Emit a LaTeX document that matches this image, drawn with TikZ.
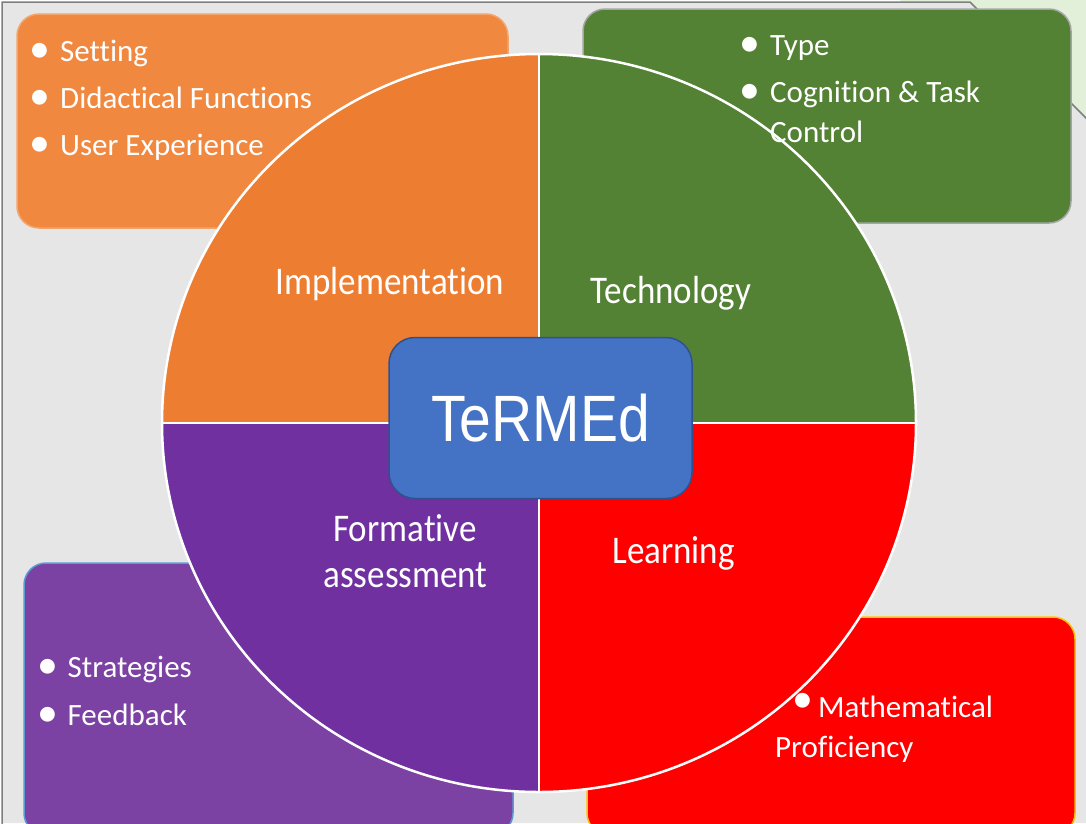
\documentclass[tikz,border=0pt]{standalone}
\usepackage{fontspec}
\setmainfont{Carlito}[Ligatures=NoCommon]
\newfontfamily\arialfont{Liberation Sans}
\usepackage{tikz}
\usetikzlibrary{calc}

\definecolor{bggray}{HTML}{E6E6E6}
\definecolor{bggreen}{HTML}{E2F0D9}
\definecolor{framegray}{HTML}{7F7F7F}
\definecolor{implorange}{HTML}{ED7D31}
\definecolor{implbox}{HTML}{F0893F}
\definecolor{impledge}{HTML}{F4A56C}
\definecolor{techgreen}{HTML}{548235}
\definecolor{techedge}{HTML}{A5A5A5}
\definecolor{learnred}{HTML}{FF0000}
\definecolor{learnedge}{HTML}{FFC000}
\definecolor{formpurple}{HTML}{7030A0}
\definecolor{formbox}{HTML}{7B41A3}
\definecolor{formedge}{HTML}{5B9BD5}
\definecolor{termblue}{HTML}{4472C4}
\definecolor{termedge}{HTML}{2F528F}

\newcommand{\bigdot}{\raisebox{-1.5pt}{\scalebox{1.35}{\textbullet}}}
\newcommand{\bul}{\makebox[29.5pt][l]{\hspace{-1pt}\bigdot}}

\tikzset{
  infobox/.style={rounded corners=22pt, line width=1.5pt},
  quadlabel/.style={text=white, font=\fontsize{35}{42}\selectfont, anchor=base, inner sep=0pt, yscale=1.12},
  listitem/.style={text=white, font=\fontsize{31}{40}\selectfont, anchor=base west, inner sep=0pt},
  rim/.style={white, line width=2.5pt}
}

\begin{document}
\begin{tikzpicture}[x=1pt, y=-1pt]
	\useasboundingbox (0,0) rectangle (1086,823);
	\clip (0,0) rectangle (1086,823);
	\fill[white] (0,0) rectangle (1086,823);
	\fill[bggreen] (900,0) -- (1086,0) -- (1086,200) -- cycle;
	\fill[bggray] (2,2) -- (970,2) -- (1086,118) -- (1086,823) -- (2,823) -- cycle;
	\draw[framegray, line width=1.5pt] (2,830) -- (2,2) -- (970,2) -- (1090,122);
	% outer boxes
	\draw[infobox, fill=implbox, draw=impledge] (17,14) rectangle (508,228);
	\draw[infobox, fill=techgreen, draw=techedge] (583,9) rectangle (1071,223);
	\draw[infobox, fill=formbox, draw=formedge] (24,563) rectangle (513,835);
	\draw[infobox, fill=learnred, draw=learnedge] (587,617) rectangle (1075,835);
	% wheel
	\coordinate (c) at (539,423);
	\fill[implorange] (c) -- ++(-377,0) arc[start angle=180, end angle=270, x radius=377, y radius=369] -- cycle;
	\fill[techgreen] (c) -- ++(0,-369) arc[start angle=270, end angle=360, x radius=377, y radius=369] -- cycle;
	\fill[learnred] (c) -- ++(377,0) arc[start angle=0, end angle=90, x radius=377, y radius=369] -- cycle;
	\fill[formpurple] (c) -- ++(0,369) arc[start angle=90, end angle=180, x radius=377, y radius=369] -- cycle;
	\draw[rim] (c) ellipse[x radius=377, y radius=369];
	\draw[rim, line width=2pt] ($(c)+(0,-369)$) -- ($(c)+(0,369)$);
	\draw[rim, line width=2pt] ($(c)+(-377,0)$) -- ($(c)+(377,0)$);
	\node[fill=termblue, draw=termedge, line width=1.5pt, rounded corners=26pt, minimum width=303pt, minimum height=161pt,
		text=white, font=\arialfont\fontsize{57}{60}\selectfont] (termed) at (540.5,418) {\scalebox{1}[1.15]{TeRMEd}};
	% quadrant labels
	\node[quadlabel] (impl) at (390,294) {Implementation};
	\node[quadlabel] (tech) at (671,303) {Technology};
	\node[quadlabel] (form) at (405,541) {Formative};
	\node[quadlabel] (assess) at (405.5,587) {assessment};
	\node[quadlabel] (learn) at (673.5,563) {Learning};
	% lists
	\node[listitem] (setting) at (30.5,61) {\bul Setting};
	\node[listitem] (didact) at (30.5,108) {\bul Didactical Functions};
	\node[listitem] (userexp) at (30.5,155) {\bul User Experience};
	\node[listitem] (type) at (740.5,55) {\bul Type};
	\node[listitem] (cognit) at (740.5,102) {\bul Cognition \& Task};
	\node[listitem] (control) at (770,142) {Control};
	\node[listitem] (strat) at (38,677) {\bul Strategies};
	\node[listitem] (feedb) at (38,725) {\bul Feedback};
	\node[listitem] (mathbul) at (792,711) {\bigdot};
	\node[listitem] (mathem) at (818,717) {Mathematical};
	\node[listitem] (profic) at (775,757) {Proficiency};
\end{tikzpicture}
\end{document}
